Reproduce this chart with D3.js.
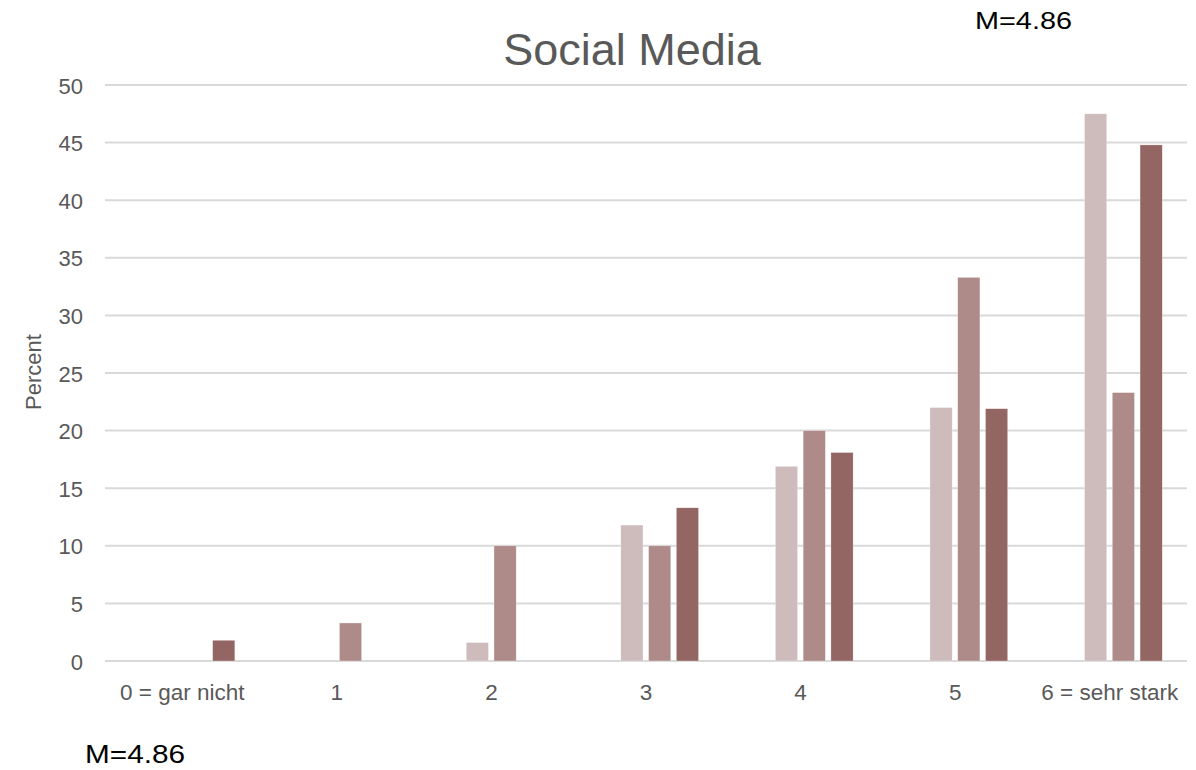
<!DOCTYPE html>
<html>
<head>
<meta charset="utf-8">
<script src="https://cdn.jsdelivr.net/npm/d3@7"></script>
<style>
  html, body { margin: 0; padding: 0; background: #fff; }
  svg { display: block; }
</style>
</head>
<body>
<svg id="chart" width="1196" height="770"></svg>
<script>
// Response categories on the x axis
const categories = ["0 = gar nicht", "1", "2", "3", "4", "5", "6 = sehr stark"];

// Percent per category, one array per group
const series1 = [0, 0, 1.6, 11.8, 16.9, 22.0, 47.5];
const series2 = [0, 3.3, 10.0, 10.0, 20.0, 33.3, 23.3];
const series3 = [1.8, 0, 0, 13.3, 18.1, 21.9, 44.8];

const seriesNames = ["series1", "series2", "series3"];
const seriesColors = ["#cdbcbb", "#ae8b89", "#936563"];

// Y axis ticks
const yTicks = [0, 5, 10, 15, 20, 25, 30, 35, 40, 45, 50];

const titleText = "Social Media";
const yTitle = "Percent";
const meanLabel = "M=4.86";

const svg = d3.select("#chart");
const font = "'Liberation Sans', Arial, sans-serif";
const textGray = "#595959";

const plot = { left: 105, right: 1187, top: 85, bottom: 661 };

const x = d3.scaleBand()
  .domain(categories)
  .range([plot.left, plot.right])
  .padding(0);

const y = d3.scaleLinear()
  .domain([0, 50])
  .range([plot.bottom, plot.top]);

// bars sit in the right-hand part of each category slot
const bw = x.bandwidth();
const xInner = d3.scaleBand()
  .domain(seriesNames)
  .range([bw * 0.337, bw * 0.84])
  .paddingInner(0.2)
  .paddingOuter(0);

// gridlines
svg.append("g")
  .selectAll("line")
  .data(yTicks)
  .join("line")
  .attr("x1", plot.left)
  .attr("x2", plot.right)
  .attr("y1", d => y(d))
  .attr("y2", d => y(d))
  .attr("stroke", "#d9d9d9")
  .attr("stroke-width", 2);

// y tick labels
svg.append("g")
  .selectAll("text")
  .data(yTicks)
  .join("text")
  .attr("x", 83)
  .attr("y", d => y(d) + 1)
  .attr("text-anchor", "end")
  .attr("dominant-baseline", "central")
  .attr("font-family", font)
  .attr("font-size", 22)
  .attr("fill", textGray)
  .text(d => d);

// bars
const allSeries = [series1, series2, series3];
const rows = [];
allSeries.forEach((vals, si) => {
  vals.forEach((v, ci) => {
    rows.push({ cat: categories[ci], s: seriesNames[si], color: seriesColors[si], v });
  });
});

svg.append("g")
  .selectAll("rect")
  .data(rows.filter(d => d.v > 0))
  .join("rect")
  .attr("x", d => x(d.cat) + xInner(d.s))
  .attr("width", xInner.bandwidth())
  .attr("y", d => y(d.v))
  .attr("height", d => y(0) - y(d.v))
  .attr("fill", d => d.color)
  .attr("stroke", "#ffffff")
  .attr("stroke-opacity", 0.5)
  .attr("stroke-width", 0.6);

// x category labels
svg.append("g")
  .selectAll("text")
  .data(categories)
  .join("text")
  .attr("x", d => x(d) + bw / 2)
  .attr("y", 700)
  .attr("text-anchor", "middle")
  .attr("font-family", font)
  .attr("font-size", 22.5)
  .attr("fill", textGray)
  .text(d => d);

// y axis title
svg.append("text")
  .attr("transform", "translate(41,372) rotate(-90)")
  .attr("text-anchor", "middle")
  .attr("font-family", font)
  .attr("font-size", 22)
  .attr("fill", textGray)
  .text(yTitle);

// chart title
svg.append("text")
  .attr("x", 632)
  .attr("y", 65)
  .attr("text-anchor", "middle")
  .attr("font-family", font)
  .attr("font-size", 45)
  .attr("fill", textGray)
  .text(titleText);

// mean annotations
svg.append("text")
  .attr("x", 975)
  .attr("y", 29)
  .attr("font-family", font)
  .attr("font-size", 23)
  .attr("fill", "#000")
  .attr("textLength", 97)
  .attr("lengthAdjust", "spacingAndGlyphs")
  .text(meanLabel);

svg.append("text")
  .attr("x", 85)
  .attr("y", 763)
  .attr("font-family", font)
  .attr("font-size", 25)
  .attr("fill", "#000")
  .attr("textLength", 100)
  .attr("lengthAdjust", "spacingAndGlyphs")
  .text(meanLabel);
</script>
</body>
</html>
